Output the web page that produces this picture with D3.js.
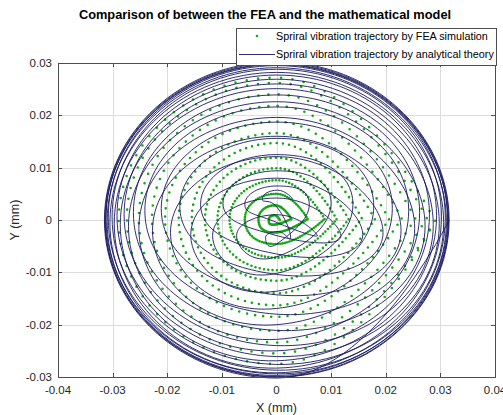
<!DOCTYPE html>
<html>
<head>
<meta charset="utf-8">
<script src="https://cdn.jsdelivr.net/npm/d3@7"></script>
<style>
	body { margin: 0; background: #fff; }
	text { font-family: "Liberation Sans", Arial, sans-serif; }
</style>
</head>
<body>
<div class="chart"></div>
<script>
let xTicks = [-0.04, -0.03, -0.02, -0.01, 0, 0.01, 0.02, 0.03, 0.04];
let yTicks = [-0.03, -0.02, -0.01, 0, 0.01, 0.02, 0.03];
let xTickLabels = ['-0.04', '-0.03', '-0.02', '-0.01', '0', '0.01', '0.02', '0.03', '0.04'];
let yTickLabels = ['-0.03', '-0.02', '-0.01', '0', '0.01', '0.02', '0.03'];

// analytical theory: extremes of each loop of the trajectory (mm)
let lineTop = [0.0057, -0.0022, 0.0065, 0.0010, 0.0094, 0.0042, 0.0125, 0.0080, 0.0156, 0.0121, 0.0187, 0.0160, 0.0216, 0.0196,
	0.0239, 0.0226, 0.0260, 0.0251, 0.0277, 0.0269, 0.0288, 0.0282, 0.0295, 0.0291, 0.0298, 0.0297, 0.0300, 0.0302];
let lineBottom = [0.0023, -0.0044, -0.0005, -0.0070, -0.0030, -0.0102, -0.0065, -0.0136, -0.0104, -0.0169, -0.0143, -0.0200, -0.0180, -0.0228,
	-0.0211, -0.0250, -0.0240, -0.0269, -0.0261, -0.0283, -0.0276, -0.0292, -0.0287, -0.0297, -0.0294, -0.0299, -0.0300, -0.0302];
let lineRight = [0.0030, 0.0026, 0.0060, 0.0075, 0.0100, 0.0118, 0.0140, 0.0158, 0.0178, 0.0195, 0.0212, 0.0228, 0.0242, 0.0253,
	0.0262, 0.0272, 0.0280, 0.0287, 0.0293, 0.0298, 0.0302, 0.0306, 0.0309, 0.0311, 0.0313, 0.0314, 0.0315, 0.0316];
let lineLeft = [-0.0026, -0.0020, -0.0058, -0.0073, -0.0098, -0.0117, -0.0139, -0.0157, -0.0177, -0.0194, -0.0211, -0.0227, -0.0241, -0.0252,
	-0.0262, -0.0271, -0.0279, -0.0286, -0.0292, -0.0297, -0.0301, -0.0305, -0.0308, -0.0310, -0.0312, -0.0313, -0.0314, -0.0315];

// FEA simulation: extremes of each loop (mm)
let feaTop = [0.0009, 0.0028, 0.0050, 0.0076, 0.0099, 0.0119, 0.0147, 0.0166, 0.0188, 0.0218, 0.0240, 0.0262, 0.0272];
let feaBottom = [-0.0009, -0.0024, -0.0046, -0.0072, -0.0096, -0.0116, -0.0140, -0.0163, -0.0185, -0.0212, -0.0234, -0.0255, -0.0275];
let feaRight = [0.0006, 0.0027, 0.0057, 0.0088, 0.0110, 0.0132, 0.0156, 0.0180, 0.0206, 0.0229, 0.0254, 0.0275, 0.0290];
let feaLeft = [-0.0014, -0.0033, -0.0058, -0.0086, -0.0108, -0.0131, -0.0155, -0.0179, -0.0204, -0.0228, -0.0252, -0.0274, -0.0289];
let feaDotsPerLoop = 80;

let margin = {top: 63, right: 8, bottom: 38, left: 58};
let width = 503 - margin.left - margin.right;
let height = 415 - margin.top - margin.bottom;

let root = d3.select('.chart')
	.append('svg')
	.attr('width', 503)
	.attr('height', 415);

let svg = root.append('g')
	.attr('transform', 'translate(' + margin.left + ', ' + margin.top + ')');

let xScale = d3.scaleLinear().domain([-0.04, 0.04]).range([0, width]);
let yScale = d3.scaleLinear().domain([-0.03, 0.03]).range([height, 0]);

// grid
svg.append('g')
	.selectAll('line')
	.data(xTicks)
	.enter()
	.append('line')
	.attr('x1', d => Math.round(xScale(d)) + 0.5)
	.attr('x2', d => Math.round(xScale(d)) + 0.5)
	.attr('y1', 0)
	.attr('y2', height)
	.style('stroke', '#dcdcdc');

svg.append('g')
	.selectAll('line')
	.data(yTicks)
	.enter()
	.append('line')
	.attr('y1', d => Math.round(yScale(d)) + 0.5)
	.attr('y2', d => Math.round(yScale(d)) + 0.5)
	.attr('x1', 0)
	.attr('x2', width)
	.style('stroke', '#dcdcdc');

// turn loop extremes into key points: right, top, left, bottom
function loopPoints(top, bottom, right, left) {
	let pts = [];
	for (let i = 0; i < top.length; i++) {
		let cx = (right[i] + left[i]) / 2;
		let cy = (top[i] + bottom[i]) / 2;
		pts.push([right[i], cy], [cx, top[i]], [left[i], cy], [cx, bottom[i]]);
	}
	return pts;
}

let line = d3.line()
	.x(d => xScale(d[0]))
	.y(d => yScale(d[1]))
	.curve(d3.curveCardinal.tension(-0.65));

let plot = svg.append('g');

// FEA dots, one dotted path per loop
let feaPts = loopPoints(feaTop, feaBottom, feaRight, feaLeft);
let feaLoops = feaTop.map((d, i) => {
	let seg = feaPts.slice(i * 4, i * 4 + 5);
	if (seg.length < 5) seg.push(feaPts[i * 4]);
	return seg;
});

plot.selectAll('.fea')
	.data(feaLoops)
	.enter()
	.append('path')
	.attr('class', 'fea')
	.attr('d', d => line(d))
	.style('fill', 'none')
	.style('stroke', '#14a814')
	.style('stroke-width', 2.6)
	.style('stroke-linecap', 'round')
	.attr('stroke-dasharray', function() {
		return '0 ' + (this.getTotalLength() / feaDotsPerLoop);
	});

// analytical line
let linePts = loopPoints(lineTop, lineBottom, lineRight, lineLeft);
linePts.push(linePts[linePts.length - 4]);
plot.append('path')
	.attr('d', line(linePts))
	.style('fill', 'none')
	.style('stroke', '#1a1a60')
	.style('stroke-width', 0.9);

// box + ticks
let tickLen = 4;
let axisColor = '#4d4d4d';
svg.append('rect')
	.attr('x', 0.5).attr('y', 0.5)
	.attr('width', width).attr('height', height)
	.style('fill', 'none')
	.style('stroke', axisColor);

xTicks.forEach(t => {
	let x = Math.round(xScale(t)) + 0.5;
	svg.append('line').attr('x1', x).attr('x2', x).attr('y1', height).attr('y2', height - tickLen).style('stroke', axisColor);
	svg.append('line').attr('x1', x).attr('x2', x).attr('y1', 0).attr('y2', tickLen).style('stroke', axisColor);
});
yTicks.forEach(t => {
	let y = Math.round(yScale(t)) + 0.5;
	svg.append('line').attr('y1', y).attr('y2', y).attr('x1', 0).attr('x2', tickLen).style('stroke', axisColor);
	svg.append('line').attr('y1', y).attr('y2', y).attr('x1', width).attr('x2', width - tickLen).style('stroke', axisColor);
});

svg.append('g')
	.selectAll('text')
	.data(xTicks)
	.enter()
	.append('text')
	.attr('x', d => xScale(d))
	.attr('y', height + 17)
	.attr('text-anchor', 'middle')
	.style('font-size', '11.5px')
	.style('fill', '#262626')
	.text((d, i) => xTickLabels[i]);

svg.append('g')
	.selectAll('text')
	.data(yTicks)
	.enter()
	.append('text')
	.attr('x', -6)
	.attr('y', d => yScale(d) + 4)
	.attr('text-anchor', 'end')
	.style('font-size', '11.5px')
	.style('fill', '#262626')
	.text((d, i) => yTickLabels[i]);

// labels + title
root.append('text')
	.attr('x', margin.left + width / 2)
	.attr('y', 412)
	.attr('text-anchor', 'middle')
	.style('font-size', '12.5px')
	.style('fill', '#262626')
	.text('X (mm)');

root.append('text')
	.attr('transform', 'translate(19, 220) rotate(-90)')
	.attr('text-anchor', 'middle')
	.style('font-size', '12.5px')
	.style('fill', '#262626')
	.text('Y (mm)');

root.append('text')
	.attr('x', 265)
	.attr('y', 19)
	.attr('text-anchor', 'middle')
	.style('font-size', '12.8px')
	.style('font-weight', 'bold')
	.style('fill', '#000')
	.text('Comparison of between the FEA and the mathematical model');

// legend
let legend = root.append('g').attr('transform', 'translate(236, 28)');
legend.append('rect')
	.attr('x', 0.5).attr('y', 0.5)
	.attr('width', 260).attr('height', 37)
	.style('fill', '#fff')
	.style('stroke', '#4d4d4d');
legend.append('circle')
	.attr('cx', 21).attr('cy', 8)
	.attr('r', 1.3)
	.style('fill', '#14a814');
legend.append('line')
	.attr('x1', 3).attr('x2', 39)
	.attr('y1', 26.5).attr('y2', 26.5)
	.style('stroke', '#1a1a60')
	.style('stroke-width', 0.9);
legend.append('text')
	.attr('x', 40).attr('y', 12)
	.style('font-size', '10.8px')
	.style('fill', '#000')
	.text('Spriral vibration trajectory by FEA simulation');
legend.append('text')
	.attr('x', 40).attr('y', 30)
	.style('font-size', '10.8px')
	.style('fill', '#000')
	.text('Spriral vibration trajectory by analytical theory');
</script>
</body>
</html>
